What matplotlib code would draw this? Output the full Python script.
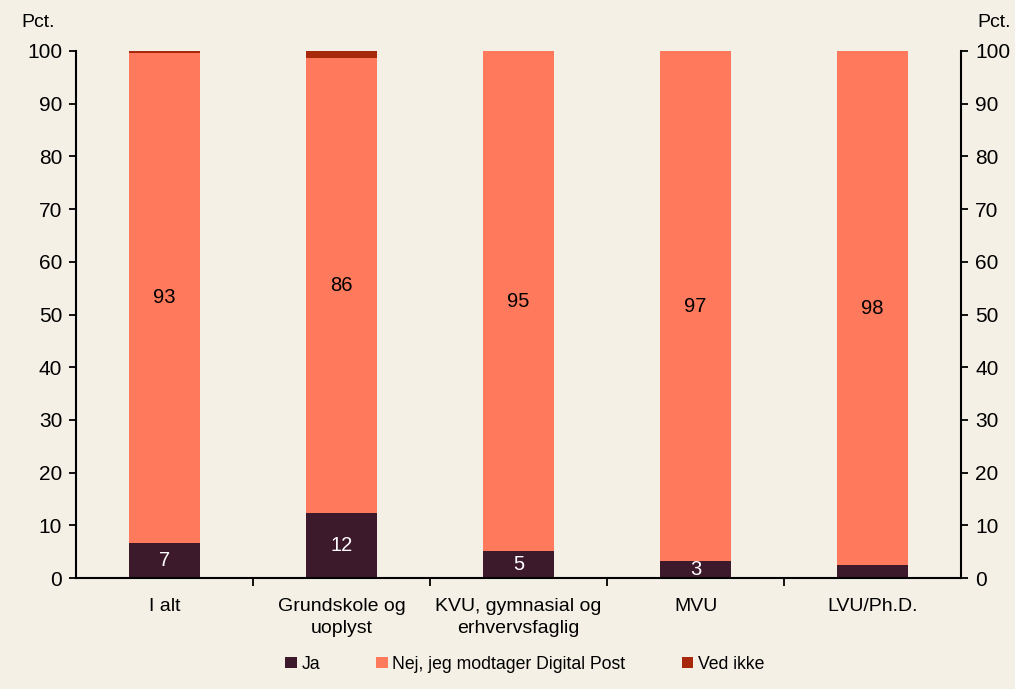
import matplotlib.pyplot as plt
import numpy as np

plt.rcParams['font.family'] = ['Liberation Sans', 'DejaVu Sans']

categories = ["I alt", "Grundskole og\nuoplyst", "KVU, gymnasial og\nerhvervsfaglig", "MVU", "LVU/Ph.D."]
ja = [6.6, 12.4, 5.1, 3.2, 2.4]
nej = [93.1, 86.3, 94.9, 96.8, 97.6]
ved_ikke = [0.3, 1.3, 0.0, 0.0, 0.0]
series_names = ["Ja", "Nej, jeg modtager Digital Post", "Ved ikke"]

bg = "#F4F0E6"
colors = ["#3D1A2B", "#FF7A5C", "#A8280C"]

fig = plt.figure(figsize=(10.15, 6.89), dpi=100, facecolor=bg)
ax = fig.add_axes([0.075, 0.161, 0.872, 0.765], facecolor=bg)

x = np.arange(len(categories))
w = 0.4
ja = np.array(ja)
nej = np.array(nej)
ved_ikke = np.array(ved_ikke)

b1 = ax.bar(x, ja, w, color=colors[0], label=series_names[0])
b2 = ax.bar(x, nej, w, bottom=ja, color=colors[1], label=series_names[1])
b3 = ax.bar(x, ved_ikke, w, bottom=ja + nej, color=colors[2], label=series_names[2])

for i in range(len(categories)):
    if ja[i] >= 2.5:
        ax.text(x[i], ja[i] / 2, f"{ja[i]:.0f}", ha="center", va="center",
                color="white", fontsize=14.5)
    ax.text(x[i], ja[i] + nej[i] / 2, f"{nej[i]:.0f}", ha="center", va="center",
            color="black", fontsize=14.5)

ax.set_xlim(-0.5, len(categories) - 0.5)
ax.set_ylim(0, 100)
ax.set_yticks(range(0, 101, 10))
ax.tick_params(axis="y", labelsize=15, length=5, width=1.3, direction="out",
               left=True, right=True, labelleft=True, labelright=True, pad=5)
ax.set_xticks(x)
ax.set_xticklabels(categories, fontsize=14, linespacing=1.45)
ax.set_xticks(np.arange(0.5, len(categories) - 1, 1), minor=True)
ax.tick_params(axis="x", which="major", length=0, pad=14)
ax.tick_params(axis="x", which="minor", length=6, width=1.3, direction="out")

for s in ["left", "right", "bottom"]:
    ax.spines[s].set_linewidth(1.5)
ax.spines["top"].set_visible(False)

fig.text(0.038, 0.968, "Pct.", fontsize=14, ha="center", va="center")
fig.text(0.979, 0.968, "Pct.", fontsize=14, ha="center", va="center")

fig.legend(handles=[b1, b2, b3], loc="center", bbox_to_anchor=(0.517, 0.036),
           ncol=3, frameon=False, fontsize=12.7, handlelength=0.65, handleheight=0.65,
           handletextpad=0.25, columnspacing=3.2)

fig.savefig("out.png", dpi=100, facecolor=bg)
